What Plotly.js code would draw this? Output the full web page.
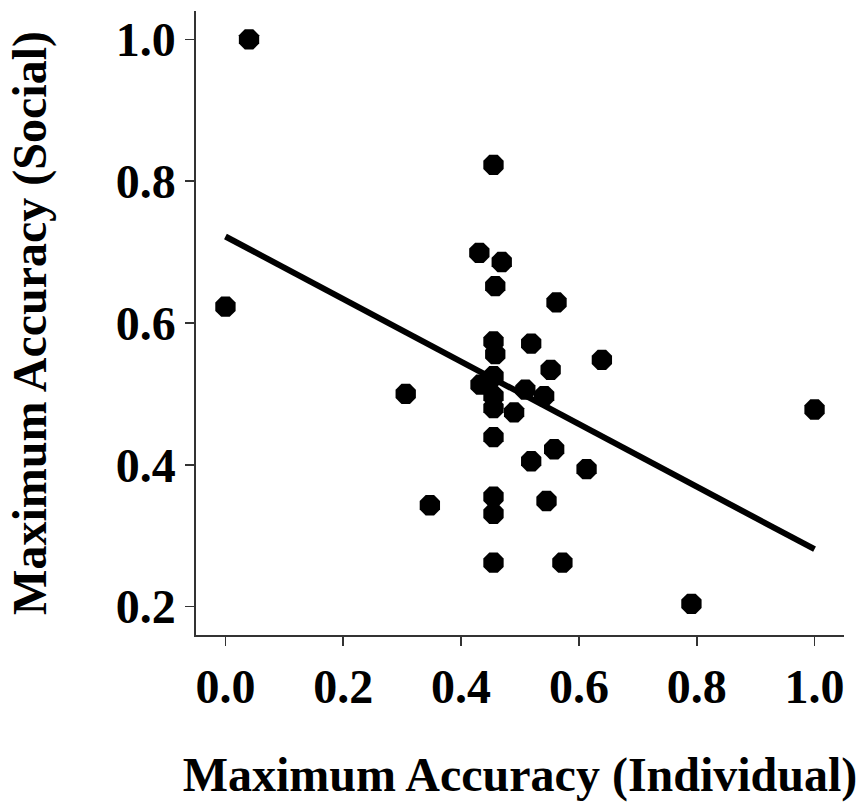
<!DOCTYPE html>
<html>
<head>
<meta charset="utf-8">
<script src="https://cdn.plot.ly/plotly-3.0.1.min.js"></script>
<style>html,body{margin:0;padding:0;background:#fff;}#chart{width:860px;height:808px;}</style>
</head>
<body>
<div id="chart"></div>
<script>
// Maximum accuracy per participant: individual (x) vs social (y)
const individualAcc = [0.040, 0.000, 0.455, 0.431, 0.469, 0.458, 0.562, 0.455, 0.458, 0.519,
                       0.639, 0.552, 0.306, 0.433, 0.455, 0.455, 0.455, 0.509, 0.541, 0.490,
                       0.455, 0.558, 0.519, 0.613, 0.347, 0.455, 0.455, 0.545, 0.455, 0.572,
                       0.791, 1.000];
const socialAcc     = [1.000, 0.623, 0.823, 0.699, 0.686, 0.652, 0.629, 0.574, 0.556, 0.571,
                       0.548, 0.534, 0.500, 0.513, 0.525, 0.497, 0.480, 0.506, 0.497, 0.474,
                       0.439, 0.422, 0.405, 0.394, 0.343, 0.355, 0.331, 0.349, 0.262, 0.262,
                       0.204, 0.478];
// Fitted regression line
const fitX = [0.0, 1.0];
const fitY = [0.722, 0.281];
// Tick labels
const xTickVals = [0.0, 0.2, 0.4, 0.6, 0.8, 1.0];
const yTickVals = [0.2, 0.4, 0.6, 0.8, 1.0];
const xTitle = "Maximum Accuracy (Individual)";
const yTitle = "Maximum Accuracy (Social)";

const fontFam = '"Liberation Serif", "Times New Roman", Times, serif';

const traces = [
  {
    x: individualAcc, y: socialAcc, type: 'scatter', mode: 'markers',
    marker: {symbol: 'octagon', size: 22, color: '#000', line: {width: 0}},
    hoverinfo: 'x+y'
  },
  {
    x: fitX, y: fitY, type: 'scatter', mode: 'lines',
    line: {color: '#000', width: 6}
  }
];

const axisCommon = {
  showgrid: false, zeroline: false, showline: true,
  linecolor: '#333', linewidth: 1.6,
  ticks: 'outside', ticklen: 9, tickwidth: 1.6, tickcolor: '#333',
  tickfont: {family: fontFam, size: 48, color: '#000', weight: 'bold'},
  tickformat: '.1f', automargin: false
};

const layout = {
  width: 860, height: 808,
  margin: {l: 196, r: 16, t: 11, b: 173},
  paper_bgcolor: '#fff', plot_bgcolor: '#fff',
  showlegend: false,
  xaxis: Object.assign({}, axisCommon, {
    range: [-0.05, 1.05], tickvals: xTickVals,
    title: {text: xTitle, standoff: 45, font: {family: fontFam, size: 48, color: '#000', weight: 'bold'}}
  }),
  yaxis: Object.assign({}, axisCommon, {
    range: [0.16, 1.04], tickvals: yTickVals,
    title: {text: yTitle, standoff: 54, font: {family: fontFam, size: 48, color: '#000', weight: 'bold'}}
  })
};

Plotly.newPlot('chart', traces, layout, {displayModeBar: false, staticPlot: true});
</script>
</body>
</html>
